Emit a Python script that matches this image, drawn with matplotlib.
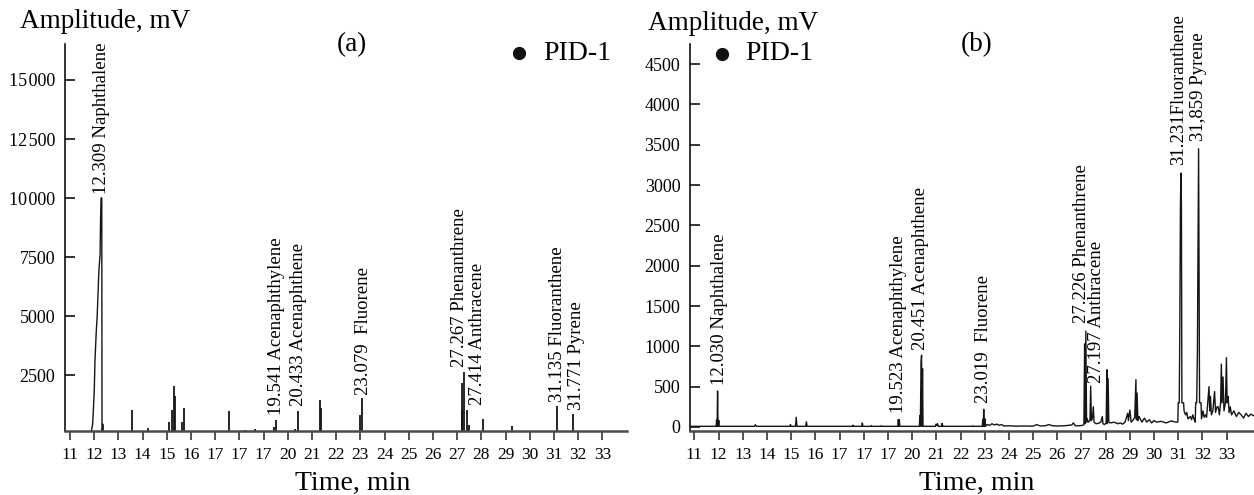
import matplotlib
matplotlib.use("Agg")
import matplotlib.pyplot as plt

plt.rcParams['font.family'] = ['Liberation Serif', 'DejaVu Serif']

# ---------------- data ----------------
x_ticks = list(range(11, 34))
x_tick_labels = ["11", "12", "13", "14", "15", "16", "17", "17", "17", "20", "21", "22",
                 "23", "24", "25", "26", "27", "28", "29", "30", "31", "32", "33"]

left_yticks = [2500, 5000, 7500, 10000, 12500, 15000]
left_ytick_labels = ["2500", "5000", "7500", "10\u200a000", "12\u200a500", "15\u200a000"]
right_yticks = [0, 500, 1000, 1500, 2000, 2500, 3000, 3500, 4000, 4500]
right_ytick_labels = ["0", "500", "1000", "1500", "2000", "2500", "3000", "3500", "4000", "4500"]

# (a) chromatogram
left_base = 130
left_naph_t = [11.88, 11.93, 11.96, 12.00, 12.03, 12.08, 12.12, 12.19, 12.24, 12.26, 12.28,
               12.31, 12.32, 12.34, 12.35, 12.36]
left_naph_a = [130, 400, 960, 1870, 3130, 4300, 5000, 6900, 7600, 9100, 10000,
               10000, 130, 130, 420, 130]
left_peak_t = [13.58, 14.22, 15.10, 15.22, 15.29, 15.33, 15.64, 15.71, 17.57, 18.24, 18.65,
               19.44, 19.52, 20.29, 20.42, 21.33, 21.36, 22.98, 23.07, 27.18, 27.22, 27.27,
               27.42, 27.50, 28.08, 29.26, 31.14, 31.79]
left_peak_h = [1030, 265, 500, 1000, 2050, 1600, 500, 1100, 960, 170, 200,
               280, 590, 230, 960, 1450, 1100, 820, 1520, 1030, 2150, 2640,
               1030, 400, 630, 330, 1170, 860]

left_lbl_text = ["12.309 Naphthalene", "19.541 Acenaphthylene", "20.433 Acenaphthene",
                 "23.079  Fluorene", "27.267 Phenanthrene", "27.414 Anthracene",
                 "31.135 Fluoranthene", "31.771 Pyrene"]
left_lbl_t = [12.28, 19.55, 20.45, 23.11, 27.10, 27.85, 31.13, 31.93]
left_lbl_a = [10150, 820, 1170, 1660, 2850, 1240, 1350, 1000]

# (b) chromatogram
right_t = [10.82, 11.90, 11.92, 11.94, 11.96, 11.98, 12.01, 12.03, 13.48, 13.52, 13.56,
           14.95, 14.97, 15.00, 15.18, 15.21, 15.24, 15.60, 15.63, 15.66, 17.54, 17.56,
           17.58, 17.92, 17.94, 17.97, 18.30, 18.32, 18.34, 18.70, 18.72, 18.74,
           19.41, 19.43, 19.45, 19.47, 19.49, 20.30, 20.32, 20.34, 20.37, 20.39, 20.41,
           20.43, 20.45, 20.97, 20.99, 21.02, 21.05, 21.08, 21.22, 21.24, 21.27,
           22.50, 22.52, 22.54, 22.90, 22.92, 22.94, 22.96, 22.98, 23.01, 23.03,
           23.10, 23.20, 23.30, 23.40, 23.50, 23.60, 23.70, 23.80, 24.00, 24.30, 24.60,
           25.00, 25.15, 25.30, 25.50, 25.65, 25.80, 26.00, 26.30, 26.60, 26.66, 26.75,
           26.90, 27.05, 27.10, 27.13, 27.15, 27.18, 27.21, 27.24, 27.28, 27.35, 27.38,
           27.41, 27.45, 27.49, 27.52, 27.60, 27.70, 27.80, 27.86, 27.89, 27.95, 28.02,
           28.05, 28.07, 28.10, 28.13, 28.20, 28.35, 28.50, 28.60, 28.70, 28.80, 28.91,
           28.94, 29.00, 29.05, 29.12, 29.20, 29.25, 29.27, 29.30, 29.33, 29.38, 29.50,
           29.60, 29.70, 29.80, 29.90, 30.00, 30.10, 30.30, 30.50, 30.70, 30.90,
           30.98, 31.00, 31.04, 31.06, 31.09, 31.11, 31.13, 31.15, 31.22, 31.24, 31.30,
           31.35, 31.40, 31.50, 31.55, 31.60, 31.65, 31.70, 31.72, 31.76, 31.79, 31.84,
           31.86, 31.88, 31.94, 31.96, 32.02, 32.07, 32.12, 32.17, 32.27, 32.30, 32.33,
           32.37, 32.43, 32.50, 32.54, 32.60, 32.65, 32.70, 32.75, 32.78, 32.81, 32.85,
           32.89, 32.95, 32.99, 33.02, 33.06, 33.10, 33.15, 33.20, 33.30, 33.40, 33.50,
           33.60, 33.70, 33.80, 33.90, 34.00, 34.10, 34.20]
right_a = [8, 8, 90, 8, 446, 8, 80, 8, 8, 28, 8,
           8, 30, 8, 8, 120, 8, 8, 65, 8, 8, 22,
           8, 8, 50, 8, 8, 18, 8, 8, 15, 8,
           8, 90, 8, 90, 8, 8, 140, 8, 800, 890, 8,
           720, 8, 8, 35, 20, 40, 8, 8, 45, 8,
           8, 15, 8, 8, 90, 8, 219, 8, 100, 8,
           30, 20, 40, 25, 35, 20, 30, 12, 15, 10, 12,
           10, 30, 12, 15, 30, 15, 12, 15, 25, 50, 15,
           15, 20, 30, 1030, 40, 1190, 60, 100, 60, 80, 505,
           80, 110, 250, 60, 40, 45, 60, 130, 40, 30, 50,
           710, 40, 600, 60, 50, 60, 40, 50, 35, 60, 170,
           80, 210, 60, 80, 120, 587, 90, 420, 80, 130, 60,
           110, 60, 90, 50, 80, 60, 70, 50, 75, 60,
           60, 300, 300, 1050, 2750, 3150, 2750, 300, 300, 200, 150,
           180, 100, 130, 90, 150, 100, 60, 300, 300, 900, 3450,
           1800, 300, 300, 100, 200, 120, 150, 120, 500, 200, 380,
           150, 200, 440, 180, 250, 250, 150, 300, 780, 300, 620,
           200, 300, 860, 300, 380, 180, 250, 150, 200, 130, 180,
           150, 110, 170, 130, 160, 140, 150]

right_lbl_text = ["12.030 Naphthalene", "19.523 Acenaphthylene", "20.451 Acenaphthene",
                  "23.019  Fluorene", "27.226 Phenanthrene", "27.197 Anthracene",
                  "31.231Fluoranthene", "31,859 Pyrene"]
right_lbl_t = [12.03, 19.42, 20.34, 22.93, 27.02, 27.63, 31.00, 31.85]
right_lbl_a = [520, 170, 955, 294, 1285, 542, 3250, 3550]

# ---------------- figure ----------------
W, H = 1254, 495
fig = plt.figure(figsize=(W / 100, H / 100), dpi=100)

axL = fig.add_axes([65 / W, (H - 431) / H, (627 - 65) / W, (431 - 44) / H])
axR = fig.add_axes([690 / W, (H - 431) / H, (1254 - 690) / W, (431 - 44) / H])

line_col = '#151515'
lbl_fs = 13.5

# left
axL.plot(left_naph_t, left_naph_a, color=line_col, lw=1.0)
axL.vlines(left_peak_t, left_base, left_peak_h, color=line_col, lw=1.3)
for s, t, a in zip(left_lbl_text, left_lbl_t, left_lbl_a):
    axL.text(t, a, s, rotation=90, ha='center', va='bottom', fontsize=lbl_fs)
axL.set_xlim(10.79, 34.02)
axL.set_ylim(130, 16525)
axL.set_yticks(left_yticks)
axL.set_yticklabels(left_ytick_labels)

# right
axR.plot(right_t, right_a, color=line_col, lw=1.0)
for s, t, a in zip(right_lbl_text, right_lbl_t, right_lbl_a):
    axR.text(t, a, s, rotation=90, ha='center', va='bottom', fontsize=lbl_fs)
axR.set_xlim(10.82, 34.13)
axR.set_ylim(-50, 4750)
axR.set_yticks(right_yticks)
axR.set_yticklabels(right_ytick_labels)

for ax in (axL, axR):
    ax.set_xticks(x_ticks)
    ax.set_xticklabels(x_tick_labels)
    for sp in ('top', 'right'):
        ax.spines[sp].set_visible(False)
    ax.spines['left'].set_linewidth(1.2)
    ax.spines['left'].set_color('#111111')
    ax.spines['bottom'].set_linewidth(1.8)
    ax.spines['bottom'].set_color('#4a4a4a')
    ax.tick_params(axis='x', direction='out', length=6.5, width=1.2, color='#333333',
                   labelsize=12.5, pad=5)
    ax.tick_params(axis='y', direction='in', length=7, width=1.2, color='#111111',
                   labelsize=13, pad=7)
    ax.patch.set_alpha(0)

# texts
fig.text(20 / W, 1 - 22 / H, "Amplitude, mV", fontsize=19.5, ha='left', va='center')
fig.text(648 / W, 1 - 24 / H, "Amplitude, mV", fontsize=19.5, ha='left', va='center')
fig.text(352 / W, 1 - 45 / H, "(a)", fontsize=19.5, ha='center', va='center')
fig.text(977 / W, 1 - 45 / H, "(b)", fontsize=19.5, ha='center', va='center')
fig.text(353 / W, 1 - 483 / H, "Time, min", fontsize=20, ha='center', va='center')
fig.text(977 / W, 1 - 483 / H, "Time, min", fontsize=20, ha='center', va='center')

fig.text(543 / W, 1 - 53 / H, "PID-1", fontsize=20, ha='left', va='center')
fig.text(745 / W, 1 - 54 / H, "PID-1", fontsize=20, ha='left', va='center')
fig.add_artist(plt.Line2D([519 / W], [1 - 53 / H], marker='o', markersize=8.5,
                          color='#111111', ls='', transform=fig.transFigure))
fig.add_artist(plt.Line2D([722 / W], [1 - 54 / H], marker='o', markersize=8.5,
                          color='#111111', ls='', transform=fig.transFigure))

fig.savefig("out.png", dpi=100)
